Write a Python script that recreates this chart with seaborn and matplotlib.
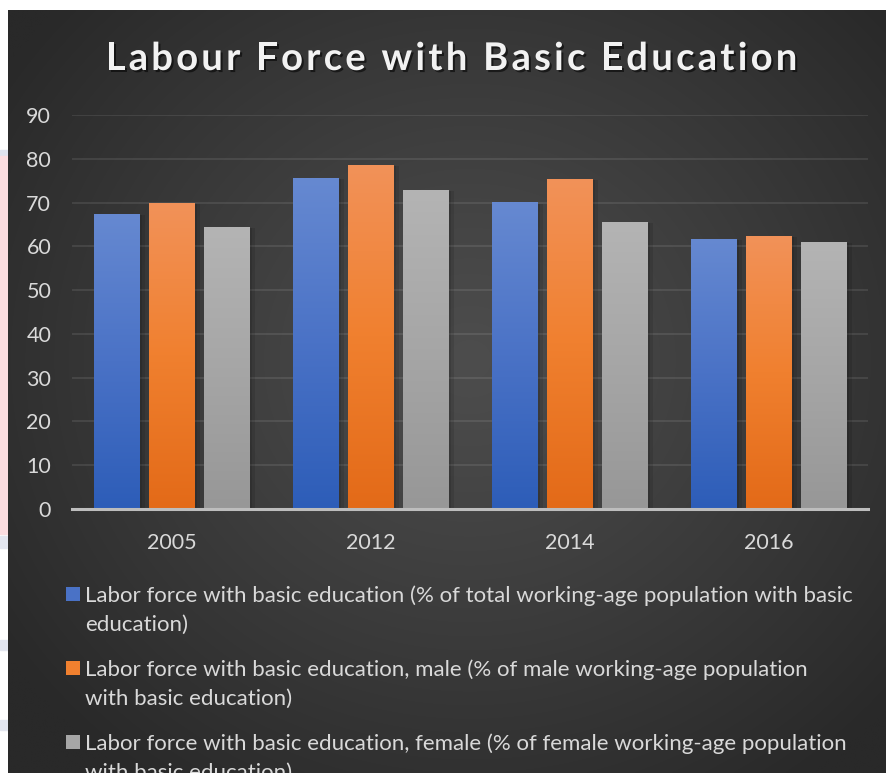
import numpy as np
import pandas as pd
import matplotlib
matplotlib.use("Agg")
import matplotlib.pyplot as plt
import matplotlib.patheffects as pe
from matplotlib.colors import LinearSegmentedColormap
from matplotlib.patches import Rectangle
from matplotlib.font_manager import FontProperties
import seaborn as sns

# ---- data -------------------------------------------------------------
years = ["2005", "2012", "2014", "2016"]
series = [
    "Labor force with basic education (% of total working-age population with basic\neducation)",
    "Labor force with basic education, male (% of male working-age population\nwith basic education)",
    "Labor force with basic education, female (% of female working-age population\nwith basic education)",
]
total_vals = [67.4, 75.6, 70.1, 61.7]
male_vals = [70.0, 78.6, 75.4, 62.4]
female_vals = [64.4, 72.9, 65.6, 61.0]
y_ticks = [0, 10, 20, 30, 40, 50, 60, 70, 80, 90]
title = "Labour Force with Basic Education"

# bar colours: (top, mid, bottom) of each vertical gradient
grad_colors = [
    ("#6689d1", "#4a72c6", "#2d5db8"),
    ("#f29259", "#f0802f", "#e36a18"),
    ("#b4b4b4", "#a6a6a6", "#979797"),
]

df = pd.DataFrame({
    "year": years * 3,
    "value": total_vals + male_vals + female_vals,
    "series": [series[0]] * 4 + [series[1]] * 4 + [series[2]] * 4,
})

W, H, DPI = 886, 773, 100
FONT = "Lato"
TXT = "#d9d9d9"

sns.set_theme(style="dark")
plt.rcParams["font.family"] = [FONT, "DejaVu Sans"]

fig = plt.figure(figsize=(W / DPI, H / DPI), dpi=DPI, facecolor="white")

# ---- left edge strip and chart background -------------------------------
strip = fig.add_axes([0, 0, 1, 1], zorder=-3)
strip.set_axis_off()
strip.set_xlim(0, W)
strip.set_ylim(H, 0)
strip.add_patch(Rectangle((0, 150), 8, 6, color="#dfe3ee"))
strip.add_patch(Rectangle((0, 156), 8, 378, color="#fbdde0"))
strip.add_patch(Rectangle((0, 536), 8, 12, color="#e3e6ef"))
strip.add_patch(Rectangle((0, 640), 8, 10, color="#e3e6ef"))
strip.add_patch(Rectangle((0, 720), 8, 10, color="#e3e6ef"))

bg = fig.add_axes([8 / W, 0, (W - 8) / W, (H - 10) / H], zorder=-2)
bg.set_axis_off()
gx = np.linspace(8, W, 400)
gy = np.linspace(10, H, 400)
XX, YY = np.meshgrid(gx, gy)
rr = np.sqrt(((XX - 470) / 560) ** 2 + ((YY - 360) / 520) ** 2)
rr = np.clip(rr, 0, 1) ** 1.1
c0 = np.array([0x4d, 0x4d, 0x4d]) / 255
c1 = np.array([0x29, 0x29, 0x29]) / 255
img = c0[None, None, :] * (1 - rr[..., None]) + c1[None, None, :] * rr[..., None]
bg.imshow(img, extent=[8, W, H, 10], aspect="auto", interpolation="bilinear")
bg.set_xlim(8, W)
bg.set_ylim(H, 10)

# ---- bars -------------------------------------------------------------
ax = fig.add_axes([72 / W, 1 - 509 / H, 796 / W, 394 / H])
ax.set_facecolor("none")
mids = [c[1] for c in grad_colors]
sns.barplot(data=df, x="year", y="value", hue="series", order=years,
            hue_order=series, palette=mids, width=0.83, gap=0.175,
            legend=False, ax=ax, saturation=1, zorder=3)

ax.set_xlim(-0.5, 3.5)
ax.set_ylim(0, 90)

grad = np.linspace(0, 1, 256).reshape(-1, 1)
for i, bar in enumerate(ax.patches):
    s = i // len(years)
    top, mid, bot = grad_colors[s]
    cmap = LinearSegmentedColormap.from_list(f"g{i}", [bot, mid, top])
    x0, y0 = bar.get_x(), bar.get_y()
    w, h = bar.get_width(), bar.get_height()
    bar.set_linewidth(0)
    bar.set_path_effects([
        pe.SimplePatchShadow(offset=(4, -1), shadow_rgbFace="black", alpha=0.10),
        pe.SimplePatchShadow(offset=(2, -1), shadow_rgbFace="black", alpha=0.10),
        pe.Normal()])
    im = ax.imshow(grad, extent=[x0, x0 + w, y0, y0 + h], origin="lower",
                   cmap=cmap, aspect="auto", zorder=3.5, interpolation="bilinear")
    im.set_clip_path(bar)

ax.set_xlim(-0.5, 3.5)
ax.set_ylim(0, 90)

# ---- axes styling -------------------------------------------------------
ax.set_yticks(y_ticks)
ax.yaxis.grid(True, color="white", alpha=0.09, linewidth=1.5, zorder=0)
ax.xaxis.grid(False)
ax.set_axisbelow(True)
for side in ("top", "right", "left"):
    ax.spines[side].set_visible(False)
ax.spines["bottom"].set_color("#bdbdbd")
ax.spines["bottom"].set_linewidth(2.2)
ax.spines["bottom"].set_zorder(5)
ax.tick_params(axis="both", length=0, colors=TXT, labelsize=15.5)
ax.tick_params(axis="y", pad=15)
ax.tick_params(axis="x", pad=17)
ax.set_xlabel("")
ax.set_ylabel("")

# ---- title with letter spacing ------------------------------------------
renderer = fig.canvas.get_renderer()
title_size = 27.5
spacing = 3.2  # extra px between letters
fp = FontProperties(family=FONT, weight="bold", size=title_size)
advs = []
for ch in title:
    if ch == " ":
        wa, _, _ = renderer.get_text_width_height_descent("a a", fp, ismath=False)
        wb, _, _ = renderer.get_text_width_height_descent("aa", fp, ismath=False)
        advs.append(wa - wb)
    else:
        wc, _, _ = renderer.get_text_width_height_descent(ch, fp, ismath=False)
        advs.append(wc)
total = sum(advs) + spacing * (len(title) - 1)
xpos = 451.5 - total / 2
for ch, adv in zip(title, advs):
    if ch != " ":
        fig.text(xpos / W, 1 - 59 / H, ch, fontproperties=fp, color="#f2f2f2",
                 ha="left", va="center",
                 path_effects=[pe.withSimplePatchShadow(offset=(1.5, -1.5), shadow_rgbFace="black", alpha=0.55)])
    xpos += adv + spacing

# ---- legend -------------------------------------------------------------
leg = fig.add_axes([0, 0, 1, 1], zorder=4)
leg.set_axis_off()
leg.set_xlim(0, W)
leg.set_ylim(H, 0)
rows = [594, 668, 742]
for (top, mid, bot), label, yc in zip(grad_colors, series, rows):
    sq = Rectangle((66, yc - 7), 14, 14, facecolor=mid, linewidth=0)
    leg.add_patch(sq)
    g = leg.imshow(grad[::-1], extent=[66, 80, yc + 7, yc - 7],
                   cmap=LinearSegmentedColormap.from_list("l", [bot, mid, top]),
                   aspect="auto", interpolation="bilinear")
    g.set_clip_path(sq)
    leg.text(85, yc - 9, label, color=TXT, fontsize=16.0, ha="left", va="top",
             linespacing=1.58, family=[FONT, "DejaVu Sans"])
leg.set_xlim(0, W)
leg.set_ylim(H, 0)

fig.savefig("out.png", dpi=DPI, facecolor="white")
